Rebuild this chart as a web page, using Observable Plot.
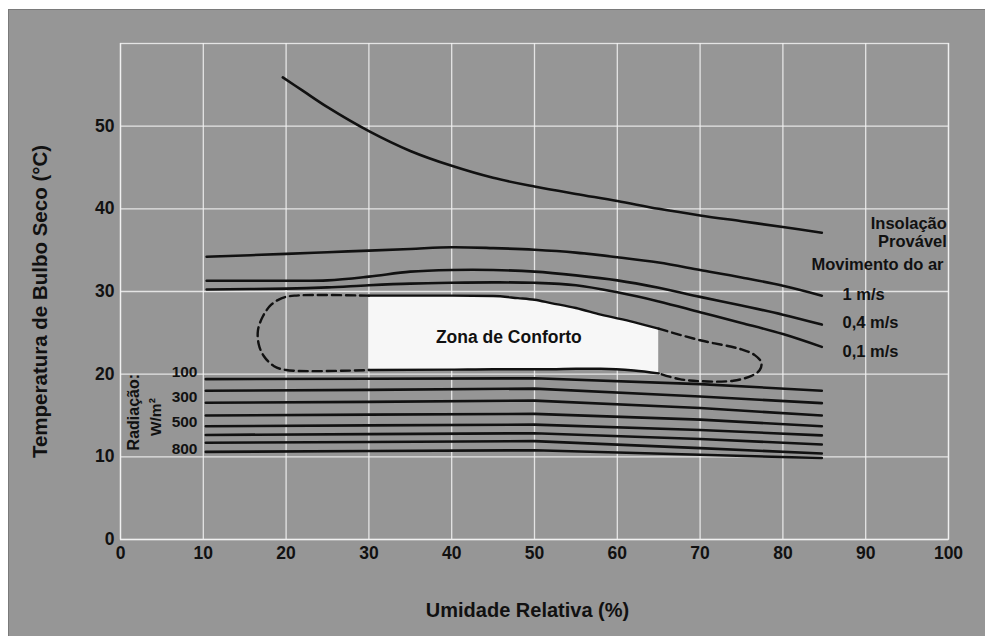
<!DOCTYPE html>
<html>
<head>
<meta charset="utf-8">
<script src="https://cdn.jsdelivr.net/npm/d3@7"></script>
<script src="https://cdn.jsdelivr.net/npm/@observablehq/plot@0.6"></script>
<style>
  html, body { margin: 0; padding: 0; background: #ffffff; }
  #wrap { position: relative; width: 985px; height: 636px; overflow: hidden; }
  #bg { position: absolute; left: 8px; top: 9px; right: 0; bottom: 0; background: #969696;
        border-top: 1px solid #7a7a7a; border-left: 1px solid #7a7a7a; }
  #chart { position: absolute; left: 0; top: 0; }
</style>
</head>
<body>
<div id="wrap"><div id="bg"></div><div id="chart"></div></div>
<script>
// ---- Tick labels ----
const xTicks = [0, 10, 20, 30, 40, 50, 60, 70, 80, 90, 100];
const yTicks = [0, 10, 20, 30, 40, 50];

// ---- Insolação provável (upper curve) ----
const sunX = [19.6, 22, 25, 30, 35, 40, 45, 50, 55, 60, 65, 70, 75, 80, 84.7];
const sunY = [55.9, 54.3, 52.3, 49.4, 47.0, 45.2, 43.75, 42.7, 41.8, 40.95, 40.0, 39.2, 38.5, 37.8, 37.1];

// ---- Movimento do ar curves ----
const windX = [10.4, 20, 25, 30, 35, 40, 45, 50, 55, 60, 65, 70, 75, 80, 84.7];
const wind1 = [34.2, 34.55, 34.75, 34.95, 35.15, 35.35, 35.25, 35.05, 34.7, 34.15, 33.5, 32.6, 31.7, 30.7, 29.5];
const wind04 = [31.3, 31.3, 31.35, 31.8, 32.4, 32.6, 32.6, 32.4, 31.95, 31.35, 30.45, 29.35, 28.3, 27.2, 26.0];
const wind01 = [30.25, 30.35, 30.5, 30.75, 30.95, 31.05, 31.1, 31.05, 30.75, 29.9, 28.8, 27.5, 26.2, 24.85, 23.3];
const windLabels = ["1 m/s", "0,4 m/s", "0,1 m/s"];

// ---- Zona de conforto (solid part) ----
const zoneX = [30, 40, 45, 48, 50, 52, 55, 58, 62, 65];
const zoneTop = [29.5, 29.5, 29.45, 29.2, 29.0, 28.6, 28.0, 27.2, 26.3, 25.5];
const zoneBottom = [20.5, 20.55, 20.6, 20.6, 20.6, 20.6, 20.65, 20.65, 20.45, 20.1];

// ---- Dashed extensions ----
const leftLoopX = [30, 21, 19.5, 18.2, 17.2, 16.6, 16.7, 17.3, 18.5, 20, 30];
const leftLoopY = [29.5, 29.5, 29.2, 28.4, 27.0, 25.3, 23.6, 22.2, 21.0, 20.5, 20.5];
const rightLoopX = [65, 70, 75, 76.6, 77.4, 77.2, 76.2, 74, 70, 67.5, 65];
const rightLoopY = [25.5, 24.1, 23.0, 22.3, 21.4, 20.5, 19.8, 19.2, 19.15, 19.4, 20.1];

// ---- Radiação lines ----
const radX = [10.3, 30, 50, 70, 84.7];
const radY = [
  [19.4, 19.45, 19.5, 18.8, 18.0],
  [18.0, 18.1, 18.25, 17.3, 16.5],
  [16.55, 16.65, 16.8, 15.9, 15.0],
  [15.0, 15.1, 15.2, 14.5, 13.7],
  [13.7, 13.8, 13.9, 13.25, 12.6],
  [12.65, 12.75, 12.85, 12.15, 11.5],
  [11.7, 11.8, 11.9, 11.05, 10.4],
  [10.6, 10.7, 10.8, 10.25, 9.85]
];
const radLabels = ["100", "300", "500", "800"];

// ---- build tables ----
const sun = sunX.map((x, i) => ({x, y: sunY[i]}));
const wind = [wind1, wind04, wind01].flatMap((s, k) => windX.map((x, i) => ({x, y: s[i], k})));
const zone = zoneX.map((x, i) => ({x, top: zoneTop[i], bottom: zoneBottom[i]}));
const leftLoop = leftLoopX.map((x, i) => ({x, y: leftLoopY[i]}));
const rightLoop = rightLoopX.map((x, i) => ({x, y: rightLoopY[i]}));
const rad = radY.flatMap((s, k) => radX.map((x, i) => ({x, y: s[i], k})));

const ink = "#111";
const bold = {fontWeight: "bold", fill: ink};
const sansFont = "Liberation Sans, Arial, Helvetica, sans-serif";

const chart = Plot.plot({
  width: 985,
  height: 636,
  marginLeft: 120,
  marginRight: 37,
  marginTop: 43,
  marginBottom: 97,
  x: {domain: [0, 100]},
  y: {domain: [0, 60]},
  style: {background: "transparent", fontFamily: sansFont, color: ink},
  marks: [
    Plot.gridX(xTicks, {stroke: "#f2f2f2", strokeOpacity: 0.85, strokeWidth: 1.3}),
    Plot.gridY(yTicks, {stroke: "#f2f2f2", strokeOpacity: 0.85, strokeWidth: 1.3}),
    Plot.frame({stroke: "#f2f2f2", strokeOpacity: 0.85, strokeWidth: 1.3}),
    Plot.axisX(xTicks, {tickSize: 0, tickPadding: 7, fontSize: 17.5, ...bold, label: null}),
    Plot.axisY(yTicks, {tickSize: 0, tickPadding: 6, fontSize: 17.5, ...bold, label: null}),
    // comfort zone fill
    Plot.areaY(zone, {x: "x", y1: "bottom", y2: "top", fill: "#f7f7f7", curve: "monotone-x"}),
    Plot.line(zone, {x: "x", y: "top", stroke: ink, strokeWidth: 2.4, curve: "monotone-x"}),
    Plot.line(zone, {x: "x", y: "bottom", stroke: ink, strokeWidth: 2.4, curve: "monotone-x"}),
    Plot.line(leftLoop, {x: "x", y: "y", stroke: ink, strokeWidth: 2.4, strokeDasharray: "9,5", curve: "catmull-rom"}),
    Plot.line(rightLoop, {x: "x", y: "y", stroke: ink, strokeWidth: 2.4, strokeDasharray: "9,5", curve: "catmull-rom"}),
    // radiation lines
    Plot.line(rad, {x: "x", y: "y", z: "k", stroke: ink, strokeWidth: 2.6, curve: "linear"}),
    // wind curves
    Plot.line(wind, {x: "x", y: "y", z: "k", stroke: ink, strokeWidth: 2.6, curve: "catmull-rom"}),
    // insolação curve
    Plot.line(sun, {x: "x", y: "y", stroke: ink, strokeWidth: 2.6, curve: "catmull-rom"}),
    // labels
    Plot.text(["Insolação"], {x: 99.8, y: 38.2, text: d => d, textAnchor: "end", fontSize: 16.5, ...bold}),
    Plot.text(["Provável"], {x: 99.8, y: 36.0, text: d => d, textAnchor: "end", fontSize: 16.5, ...bold}),
    Plot.text(["Movimento do ar"], {x: 99.4, y: 33.2, text: d => d, textAnchor: "end", fontSize: 16.5, ...bold}),
    Plot.text(windLabels, {x: 87.2, y: [29.6, 26.2, 22.7], text: d => d, textAnchor: "start", fontSize: 16.5, ...bold}),
    Plot.text(["Zona de Conforto"], {x: 46.9, y: 24.5, text: d => d, fontSize: 17.5, ...bold}),
    Plot.text(radLabels, {x: 9.3, y: [20.2, 17.2, 14.2, 11.0], text: d => d, textAnchor: "end", fontSize: 15.5, ...bold}),
    Plot.text(["Radiação:"], {x: 1.6, y: 15.4, text: d => d, rotate: -90, fontSize: 16, ...bold}),
    Plot.text(["W/m²"], {x: 4.35, y: 14.8, text: d => d, rotate: -90, fontSize: 15.5, ...bold}),
    // axis titles
    Plot.text(["Temperatura de Bulbo Seco (°C)"], {frameAnchor: "left", textAnchor: "middle", dx: -80, dy: 10, rotate: -90, text: d => d, fontSize: 20.5, ...bold}),
    Plot.text(["Umidade Relativa (%)"], {frameAnchor: "bottom", textAnchor: "middle", dx: -7, dy: 77, text: d => d, fontSize: 20, ...bold})
  ]
});
document.getElementById("chart").appendChild(chart);
</script>
</body>
</html>
